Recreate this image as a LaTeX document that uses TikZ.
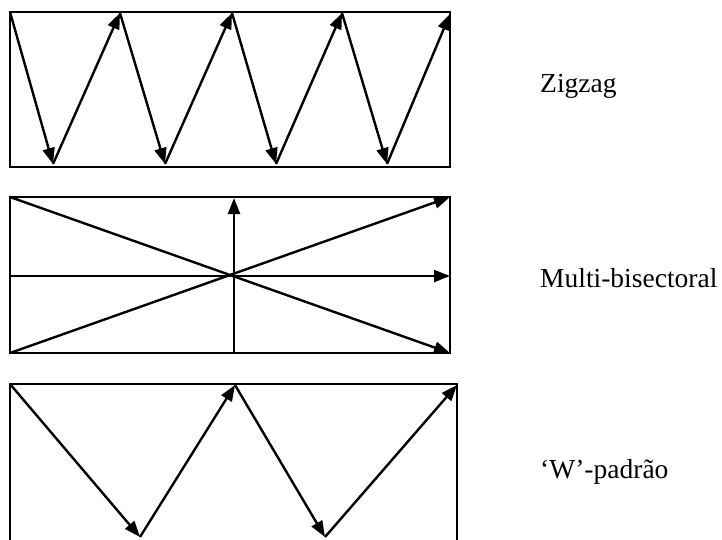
\documentclass[tikz,border=0pt]{standalone}
\usepackage{fontspec}
\setmainfont{Liberation Serif}
\usetikzlibrary{arrows.meta}
\begin{document}
\begin{tikzpicture}[x=1pt,y=-1pt,
  frame/.style={line width=2.4pt,line cap=rect},
  vec/.style={line width=2.4pt,-{Triangle[length=16pt,width=12pt]}},
  lbl/.style={anchor=base west,inner sep=0pt,font=\fontsize{27.5}{30}\selectfont}]
\useasboundingbox (0,0) rectangle (722,539);
% ---------- Zigzag ----------
\coordinate (za) at (10,12);
\coordinate (zb) at (450,167);
\draw[frame] (za) rectangle (zb);
\coordinate (t0) at (10,12);
\coordinate (b1) at (53,164);
\coordinate (t1) at (120,13);
\coordinate (b2) at (165,164);
\coordinate (t2) at (232,13);
\coordinate (b3) at (276,164);
\coordinate (t3) at (342,13);
\coordinate (b4) at (387,164);
\coordinate (t4) at (450,14);
\draw[vec] (t0) -- (b1);
\draw[vec] (b1) -- (t1);
\draw[vec] (t1) -- (b2);
\draw[vec] (b2) -- (t2);
\draw[vec] (t2) -- (b3);
\draw[vec] (b3) -- (t3);
\draw[vec] (t3) -- (b4);
\draw[vec] (b4) -- (t4);
\node[lbl] (zl) at (540,92) {Zigzag};
% ---------- Multi-bisectoral ----------
\coordinate (mtl) at (10,197);
\coordinate (mbr) at (450,353);
\draw[frame] (mtl) rectangle (mbr);
\coordinate (mbl) at (10,353);
\coordinate (mtr) at (450,197);
\coordinate (ml) at (10,276);
\coordinate (mr) at (450,276);
\coordinate (mbot) at (234,353);
\coordinate (mtop) at (234,198);
\draw[vec] (mbl) -- (mtr);
\draw[vec] (mtl) -- (mbr);
\draw[vec] (ml) -- (mr);
\draw[vec] (mbot) -- (mtop);
\node[lbl] (ml2) at (540,287) {Multi-bisectoral};
% ---------- W-padrao ----------
\coordinate (wtl) at (10,384);
\coordinate (wtr) at (457,384);
\coordinate (wbl) at (10,539);
\coordinate (wbr) at (457,539);
\draw[frame] (wbl) -- (wtl) -- (wtr) -- (wbr);
\coordinate (w1) at (140,537);
\coordinate (w2) at (235,385);
\coordinate (w3) at (325,537);
\coordinate (w4) at (457,385);
\draw[vec] (wtl) -- (w1);
\draw[vec] (w1) -- (w2);
\draw[vec] (w2) -- (w3);
\draw[vec] (w3) -- (w4);
\node[lbl] (wl) at (540,478) {‘W’-padrão};
\end{tikzpicture}
\end{document}
